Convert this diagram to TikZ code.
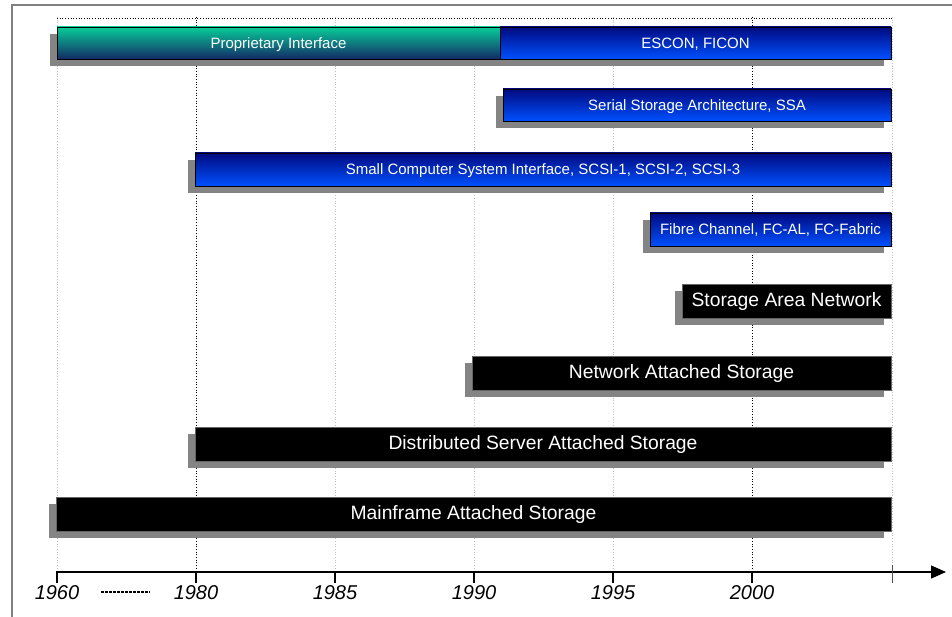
\documentclass[tikz,border=0pt]{standalone}
\usepackage{fontspec}
\setmainfont{Liberation Sans}
\usetikzlibrary{arrows.meta,shadows}
\definecolor{framegray}{HTML}{808080}
\definecolor{shadowgray}{HTML}{848484}
\definecolor{gridgray}{HTML}{C0C0C0}
\definecolor{tealtop}{HTML}{08CC98}
\definecolor{tealbot}{HTML}{142A66}
\definecolor{bluetop}{HTML}{000A80}
\definecolor{bluebot}{HTML}{0050FF}
\tikzset{
  x=1pt, y=-1pt,
  barbase/.style={draw=black, line width=0.8pt, inner sep=0pt, text=white,
    text height=1.05em, text depth=0pt,
    general shadow={fill=shadowgray, shadow xshift=-7pt, shadow yshift=-7pt}},
  tealbar/.style={barbase, top color=tealtop, bottom color=tealbot, font=\fontsize{15}{17}\selectfont},
  bluebar/.style={barbase, top color=bluetop, bottom color=bluebot, font=\fontsize{15}{17}\selectfont},
  blackbar/.style={barbase, fill=black, draw=black!60, font=\fontsize{19.3}{22}\selectfont},
  grid/.style={gridgray, dotted, line width=0.7pt},
  gridblack/.style={black, dotted, line width=0.7pt},
  yearlab/.style={font=\itshape\fontsize{20}{22}\selectfont, anchor=center},
  tickmark/.style={line width=1.4pt},
}
\newcommand{\mybar}[7]{%
  \node[#1, minimum width={(#4)-(#3)}, minimum height={(#6)-(#5)}]
    (#2) at ({((#3)+(#4))/2},{((#5)+(#6))/2}) {#7};}
\begin{document}
\begin{tikzpicture}
\useasboundingbox (0,0) rectangle (952,617);
\fill[white] (0,0) rectangle (952,617);
% frame
\draw[framegray, line width=1.6pt] (12,617) -- (12,5) -- (952,5);
% grid
\foreach \xx in {57,335,474,613,892}{\draw[grid] (\xx,17) -- (\xx,572);}
\foreach \xx in {196,752}{\draw[gridblack] (\xx,17) -- (\xx,572);}
\draw[gridblack] (57,18) -- (892,18);
% bars
\mybar{bluebar}{escon}{500}{891}{27}{59}{ESCON, FICON}
\mybar{tealbar}{prop}{57}{500}{27}{59}{Proprietary Interface}
\mybar{bluebar}{ssa}{503}{891}{89}{121}{Serial Storage Architecture, SSA}
\mybar{bluebar}{scsi}{195}{891}{153}{186}{Small Computer System Interface, SCSI-1, SCSI-2, SCSI-3}
\mybar{bluebar}{fc}{650}{891}{213}{246}{Fibre Channel, FC-AL, FC-Fabric}
\mybar{blackbar}{san}{682}{891}{284}{318}{Storage Area Network}
\mybar{blackbar}{nas}{472}{891}{356}{390}{Network Attached Storage}
\mybar{blackbar}{dsas}{195}{891}{427}{461}{Distributed Server Attached Storage}
\mybar{blackbar}{mas}{56}{891}{497}{531}{Mainframe Attached Storage}
% axis
\coordinate (axstart) at (57,572);
\coordinate (axend) at (946,572);
\draw[line width=1.2pt, -{Triangle[length=15pt,width=13pt]}] (axstart) -- (axend);
\foreach \xx/\yy in {57/1960,196/1980,335/1985,474/1990,613/1995,752/2000}{
  \draw[tickmark] (\xx,571) -- (\xx,583);
  \node[yearlab] (y\yy) at (\xx,593) {\yy};
}
\draw[line width=1pt, framegray!60!black] (892,565) -- (892,583);
\coordinate (dotA) at (101,592);
\coordinate (dotB) at (150,592);
\draw[line width=2pt, dash pattern=on 2.5pt off 1.5pt] (dotA) -- (dotB);
\end{tikzpicture}
\end{document}
